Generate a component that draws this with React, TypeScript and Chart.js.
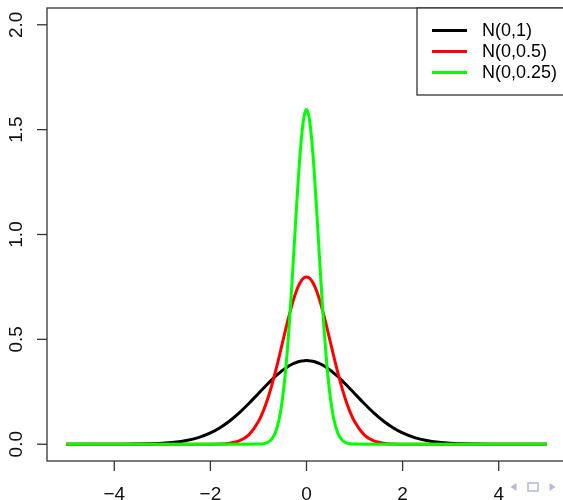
import React, { useEffect, useRef } from "react";
import { Chart, registerables } from "chart.js";

Chart.register(...registerables);

// x grid (shared by all three curves)
const xs = [
  -5, -4.5, -4, -3.5, -3, -2.75, -2.5, -2.25, -2, -1.8, -1.6, -1.4, -1.2, -1, -0.9, -0.8,
  -0.75, -0.7, -0.65, -0.6, -0.55, -0.5, -0.45, -0.4, -0.35, -0.3, -0.25, -0.2, -0.15, -0.1, -0.05,
  0,
  0.05, 0.1, 0.15, 0.2, 0.25, 0.3, 0.35, 0.4, 0.45, 0.5, 0.55, 0.6, 0.65, 0.7, 0.75,
  0.8, 0.9, 1, 1.2, 1.4, 1.6, 1.8, 2, 2.25, 2.5, 2.75, 3, 3.5, 4, 4.5, 5,
];

const sd1 = [
  0.0, 0.0, 0.0001, 0.0009, 0.0044, 0.0091, 0.0175, 0.0317, 0.054, 0.079, 0.1109, 0.1497, 0.1942, 0.242, 0.2661, 0.2897,
  0.3011, 0.3123, 0.323, 0.3332, 0.3429, 0.3521, 0.3605, 0.3683, 0.3752, 0.3814, 0.3867, 0.391, 0.3945, 0.397, 0.3984,
  0.3989,
  0.3984, 0.397, 0.3945, 0.391, 0.3867, 0.3814, 0.3752, 0.3683, 0.3605, 0.3521, 0.3429, 0.3332, 0.323, 0.3123, 0.3011,
  0.2897, 0.2661, 0.242, 0.1942, 0.1497, 0.1109, 0.079, 0.054, 0.0317, 0.0175, 0.0091, 0.0044, 0.0009, 0.0001, 0.0, 0.0,
];

const sd05 = [
  0, 0, 0, 0, 0, 0, 0, 0, 0.0003, 0.0012, 0.0048, 0.0158, 0.0448, 0.108, 0.1579, 0.2218,
  0.259, 0.2995, 0.3427, 0.3884, 0.4357, 0.4839, 0.5322, 0.5794, 0.6245, 0.6664, 0.7041, 0.7365, 0.7628, 0.7821, 0.7939,
  0.7979,
  0.7939, 0.7821, 0.7628, 0.7365, 0.7041, 0.6664, 0.6245, 0.5794, 0.5322, 0.4839, 0.4357, 0.3884, 0.3427, 0.2995, 0.259,
  0.2218, 0.1579, 0.108, 0.0448, 0.0158, 0.0048, 0.0012, 0.0003, 0, 0, 0, 0, 0, 0, 0, 0,
];

const sd025 = [
  0, 0, 0, 0, 0, 0, 0, 0, 0, 0, 0, 0, 0, 0.0005, 0.0024, 0.0095,
  0.0177, 0.0317, 0.0543, 0.0896, 0.1419, 0.216, 0.3158, 0.4437, 0.5989, 0.7767, 0.9679, 1.1588, 1.3329, 1.4731, 1.5642,
  1.5958,
  1.5642, 1.4731, 1.3329, 1.1588, 0.9679, 0.7767, 0.5989, 0.4437, 0.3158, 0.216, 0.1419, 0.0896, 0.0543, 0.0317, 0.0177,
  0.0095, 0.0024, 0.0005, 0, 0, 0, 0, 0, 0, 0, 0, 0, 0, 0, 0, 0,
];

const seriesNames = ["N(0,1)", "N(0,0.5)", "N(0,0.25)"];
const seriesColors = ["#000000", "#ff0000", "#00ff00"];
const xTicks = [-4, -2, 0, 2, 4];
const yTicks = [0, 0.5, 1.0, 1.5, 2.0];
const xTickLabels = ["\u22124", "\u22122", "0", "2", "4"];
const yTickLabels = ["0.0", "0.5", "1.0", "1.5", "2.0"];

const FONT = '19px "Liberation Sans", Arial, sans-serif';
const LEGEND_FONT = '18px "Liberation Sans", Arial, sans-serif';

const rAxesPlugin = {
  id: "rAxes",
  afterDraw(chart: any) {
    const ctx = chart.ctx;
    const { left, right, top, bottom } = chart.chartArea;
    const xs_ = chart.scales.x;
    const ys_ = chart.scales.y;
    ctx.save();
    // box
    ctx.strokeStyle = "#333";
    ctx.lineWidth = 1.3;
    ctx.strokeRect(left, top, right - left, bottom - top);
    // x ticks
    ctx.fillStyle = "#111";
    ctx.font = FONT;
    ctx.textAlign = "center";
    ctx.textBaseline = "alphabetic";
    xTicks.forEach((v, i) => {
      const px = xs_.getPixelForValue(v);
      ctx.beginPath();
      ctx.moveTo(px, bottom);
      ctx.lineTo(px, bottom + 10);
      ctx.stroke();
      ctx.fillText(xTickLabels[i], px, 499.5);
    });
    // y ticks
    yTicks.forEach((v, i) => {
      const py = ys_.getPixelForValue(v);
      ctx.beginPath();
      ctx.moveTo(left, py);
      ctx.lineTo(left - 10, py);
      ctx.stroke();
      ctx.save();
      ctx.translate(21.5, py);
      ctx.rotate(-Math.PI / 2);
      ctx.fillText(yTickLabels[i], 0, 0);
      ctx.restore();
    });
    // legend
    const lx = 417;
    const ly = top;
    const lb = 95;
    ctx.fillStyle = "#fff";
    ctx.fillRect(lx, ly, right - lx, lb - ly);
    ctx.strokeStyle = "#333";
    ctx.lineWidth = 1.3;
    ctx.strokeRect(lx, ly, right - lx, lb - ly);
    ctx.font = LEGEND_FONT;
    ctx.textAlign = "left";
    ctx.textBaseline = "middle";
    seriesNames.forEach((name, i) => {
      const y = 30.5 + i * 21;
      ctx.strokeStyle = seriesColors[i];
      ctx.lineWidth = 3;
      ctx.beginPath();
      ctx.moveTo(432, y);
      ctx.lineTo(467, y);
      ctx.stroke();
      ctx.fillStyle = "#000";
      ctx.fillText(name, 482, y + 1);
    });
    // navigation symbols
    ctx.fillStyle = "#b8b8e2";
    ctx.strokeStyle = "#b8b8e2";
    ctx.lineWidth = 1.6;
    ctx.beginPath();
    ctx.moveTo(510.5, 487);
    ctx.lineTo(516.5, 483);
    ctx.lineTo(516.5, 491);
    ctx.closePath();
    ctx.fill();
    ctx.strokeRect(528, 483, 10, 8);
    ctx.beginPath();
    ctx.moveTo(555.5, 487);
    ctx.lineTo(549.5, 483);
    ctx.lineTo(549.5, 491);
    ctx.closePath();
    ctx.fill();
    ctx.restore();
  },
};

export default function App() {
  const ref = useRef<HTMLCanvasElement | null>(null);
  useEffect(() => {
    if (!ref.current) return;
    const series = [sd1, sd05, sd025];
    const chart = new Chart(ref.current, {
      type: "line",
      data: {
        datasets: series.map((vals, i) => ({
          label: seriesNames[i],
          data: xs.map((x, j) => ({ x, y: vals[j] })),
          borderColor: seriesColors[i],
          borderWidth: 3,
          pointRadius: 0,
          fill: false,
          cubicInterpolationMode: "monotone" as const,
          order: 3 - i,
        })),
      },
      options: {
        animation: false,
        responsive: false,
        maintainAspectRatio: false,
        layout: { padding: { left: 47, top: 8, right: 14, bottom: 39 } },
        plugins: { legend: { display: false }, tooltip: { enabled: false } },
        scales: {
          x: { type: "linear", min: -5.4, max: 5.4, display: false },
          y: { type: "linear", min: -0.08, max: 2.08, display: false },
        },
      },
      plugins: [rAxesPlugin],
    });
    return () => chart.destroy();
  }, []);
  return (
    <div
      style={{
        position: "fixed",
        left: 0,
        top: 0,
        width: 563,
        height: 500,
        overflow: "hidden",
        background: "#fff",
      }}
    >
      <canvas ref={ref} width={580} height={500} style={{ width: 580, height: 500, display: "block" }} />
    </div>
  );
}
